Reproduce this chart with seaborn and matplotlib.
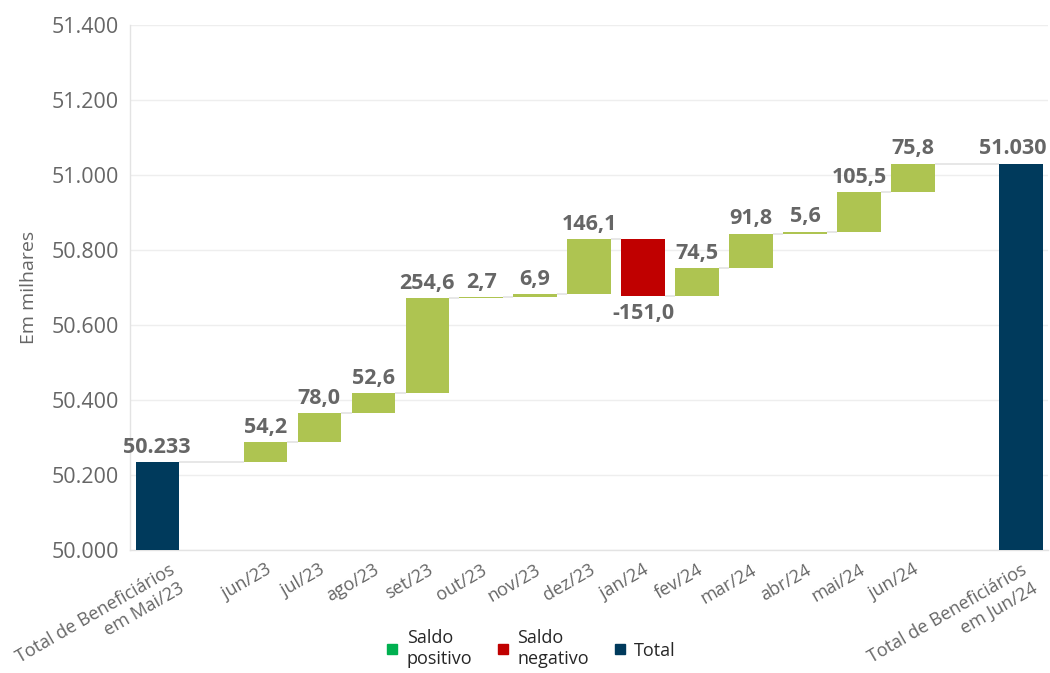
import matplotlib
matplotlib.use("Agg")
import matplotlib.pyplot as plt
from matplotlib.lines import Line2D
from matplotlib.ticker import FixedLocator
from matplotlib.transforms import ScaledTranslation
import numpy as np
import pandas as pd
import seaborn as sns

# Dados (em milhares de beneficiários)
total_inicio = 50233
total_fim = 51030
meses = ["jun/23", "jul/23", "ago/23", "set/23", "out/23", "nov/23", "dez/23",
         "jan/24", "fev/24", "mar/24", "abr/24", "mai/24", "jun/24"]
saldos = [54.2, 78.0, 52.6, 254.6, 2.7, 6.9, 146.1, -151.0, 74.5, 91.8, 5.6, 105.5, 75.8]
rotulo_inicio = "Total de Beneficiários\nem Mai/23"
rotulo_fim = "Total de Beneficiários\nem Jun/24"
yticks = [50000, 50200, 50400, 50600, 50800, 51000, 51200, 51400]

cor_pos = "#aec451"
cor_neg = "#c00000"
cor_total = "#003a5c"
cor_leg_pos = "#00b050"
cinza = "#666666"
cinza_claro = "#e3e3e3"

sns.set_style("white")
plt.rcParams["font.family"] = ["Open Sans", "DejaVu Sans"]

# monta as barras da cascata
saldos = np.array(saldos)
depois = total_inicio + np.cumsum(saldos)
antes = depois - saldos
pos_meses = np.arange(2, 2 + len(meses))
pos_fim = pos_meses[-1] + 2

df = pd.DataFrame({
    "pos": np.concatenate([[0], pos_meses, [pos_fim]]),
    "base": np.concatenate([[0], np.minimum(antes, depois), [0]]),
    "altura": np.concatenate([[total_inicio], np.abs(saldos), [total_fim]]),
    "cor": [cor_total] + [cor_pos if s > 0 else cor_neg for s in saldos] + [cor_total],
})

fig, ax = plt.subplots(figsize=(10.5, 6.73), dpi=100)
fig.subplots_adjust(left=0.124, right=0.998, top=0.963, bottom=0.183)

sns.barplot(data=df, x="pos", y="altura", bottom=df["base"].values,
            native_scale=True, errorbar=None, width=0.8, color=cor_pos,
            linewidth=0, ax=ax, zorder=3)
for patch, c in zip(ax.patches, df["cor"]):
    patch.set_facecolor(c)

# linhas de ligação
niveis = np.concatenate([[total_inicio], depois])
posicoes = df["pos"].values
for i in range(len(posicoes) - 1):
    ax.hlines(niveis[i], posicoes[i] + 0.4, posicoes[i + 1] - 0.4,
              color=cinza_claro, lw=1.2, zorder=2)

# rótulos de valor
def fmt_total(v):
    return f"{v:,}".replace(",", ".")

rot_kw = dict(textcoords="offset points", fontsize=15.5, fontweight="bold", color=cinza)
ax.annotate(fmt_total(total_inicio), (0, total_inicio), xytext=(0, 3),
            ha="center", va="bottom", **rot_kw)
ax.annotate(fmt_total(total_fim), (pos_fim + 0.5, total_fim), xytext=(-1, 3),
            ha="right", va="bottom", **rot_kw)
for p, s, a, d in zip(pos_meses, saldos, antes, depois):
    txt = f"{s:.1f}".replace(".", ",")
    if s >= 0:
        ax.annotate(txt, (p, d), xytext=(0, 3), ha="center", va="bottom", **rot_kw)
    else:
        ax.annotate(txt, (p, d), xytext=(0, -5), ha="center", va="top", **rot_kw)

# eixos
ax.set_xlim(-0.5, pos_fim + 0.5)
ax.set_ylim(yticks[0], yticks[-1])
ax.set_yticks(yticks)
ax.set_yticklabels([fmt_total(v) for v in yticks], fontsize=15.5, color=cinza)
ax.yaxis.grid(True, color="#eeeeee", lw=1)
ax.set_axisbelow(True)
ax.tick_params(axis="y", length=0, pad=8)

ax.set_xticks(posicoes)
ax.set_xticklabels([rotulo_inicio] + meses + [rotulo_fim], rotation=30,
                   ha="right", rotation_mode="anchor", fontsize=13, color=cinza)
ax.tick_params(axis="x", which="major", length=0, pad=8)
ax.xaxis.set_minor_locator(FixedLocator(np.arange(0.5, pos_fim, 1)))
ax.tick_params(axis="x", which="minor", length=5, color=cinza_claro, width=1)
primeiro = ax.get_xticklabels()[0]
primeiro.set_transform(primeiro.get_transform() + ScaledTranslation(8 / 72, 0, fig.dpi_scale_trans))
ax.set_xlabel("")
ax.set_ylabel("Em milhares", fontsize=14, color=cinza, labelpad=10)

for side in ["top", "right"]:
    ax.spines[side].set_visible(False)
for side in ["left", "bottom"]:
    ax.spines[side].set_color(cinza_claro)
    ax.spines[side].set_linewidth(1)

# legenda
handles = [Line2D([], [], marker="s", linestyle="none", markersize=7, color=c)
           for c in [cor_leg_pos, cor_neg, cor_total]]
fig.legend(handles, ["Saldo\npositivo", "Saldo\nnegativo", "Total"],
           loc="center", bbox_to_anchor=(0.506, 0.036), ncol=3, frameon=False,
           fontsize=13, handlelength=0.6, handletextpad=0.5, columnspacing=1.4)

fig.savefig("out.png", dpi=100)
